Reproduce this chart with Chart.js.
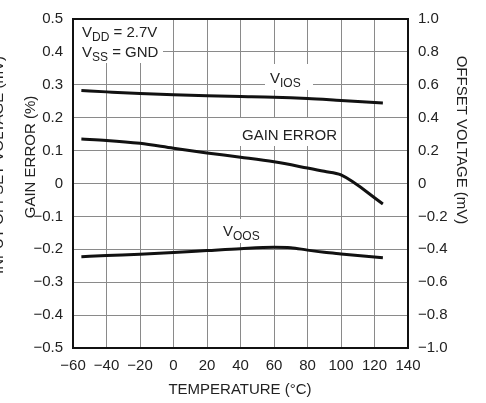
<!DOCTYPE html>
<html>
<head>
<meta charset="utf-8">
<script src="https://cdn.jsdelivr.net/npm/chart.js@4.4.1/dist/chart.umd.min.js"></script>
<style>
  body { margin: 0; background: #fff; }
  #wrap { width: 486px; height: 403px; }
</style>
</head>
<body>
<div id="wrap"><canvas id="chart"></canvas></div>
<script>
// values
var viosTemps = [-55, -40, -20, 0, 20, 40, 60, 80, 100, 125];
var viosMv    = [0.565, 0.557, 0.547, 0.539, 0.533, 0.529, 0.525, 0.517, 0.505, 0.490];

var gainTemps = [-55, -40, -20, 0, 20, 40, 60, 80, 90, 100, 125];
var gainError = [0.135, 0.131, 0.122, 0.107, 0.093, 0.080, 0.066, 0.047, 0.037, 0.026, -0.062];

var voosTemps = [-55, -40, -20, 0, 20, 40, 60, 70, 80, 90, 100, 125];
var voosMv    = [-0.445, -0.438, -0.430, -0.420, -0.408, -0.396, -0.388, -0.390, -0.405, -0.418, -0.428, -0.452];

var FONT = "'Liberation Sans', Arial, sans-serif";

function pts(xs, ys) {
    return xs.map(function(x, i) { return { x: x, y: ys[i] }; });
}

function minusFmt(v, digits) {
    if (Math.abs(v) < 1e-9) return '0';
    var s = Math.abs(v).toFixed(digits);
    return (v < 0 ? '\u2212' : '') + s;
}

// V with subscript, then optional trailing text
function subText(ctx, x, y, main, sub, rest) {
    ctx.font = '15px ' + FONT;
    ctx.fillText(main, x, y);
    x += ctx.measureText(main).width;
    ctx.font = '12px ' + FONT;
    ctx.fillText(sub, x, y + 4);
    x += ctx.measureText(sub).width;
    if (rest) {
        ctx.font = '15px ' + FONT;
        ctx.fillText(rest, x, y);
    }
}

var annotations = {
    id: 'annotations',
    beforeDatasetsDraw: function(chart) {
        var ctx = chart.ctx;
        ctx.save();
        ctx.fillStyle = '#fff';
        ctx.fillRect(74, 16, 89, 47);     // supply box
        ctx.fillRect(265, 64, 48, 26);    // V_IOS
        ctx.fillRect(236, 118, 102, 28);  // GAIN ERROR
        ctx.fillRect(218, 219, 47, 24);   // V_OOS
        ctx.restore();
    },
    afterDraw: function(chart) {
        var ctx = chart.ctx;
        var a = chart.chartArea;
        ctx.save();
        ctx.strokeStyle = '#111';
        ctx.lineWidth = 2;
        ctx.strokeRect(a.left, a.top, a.right - a.left, a.bottom - a.top);

        ctx.fillStyle = '#222';
        ctx.textAlign = 'left';
        ctx.textBaseline = 'alphabetic';
        subText(ctx, 82, 37, 'V', 'DD', ' = 2.7V');
        subText(ctx, 82, 57, 'V', 'SS', ' = GND');
        subText(ctx, 270, 83, 'V', 'IOS');
        ctx.font = '15px ' + FONT;
        ctx.fillText('GAIN ERROR', 242, 140);
        subText(ctx, 223, 236, 'V', 'OOS');

        // axis titles
        ctx.font = '15px ' + FONT;
        ctx.textAlign = 'center';
        ctx.textBaseline = 'middle';
        ctx.fillText('TEMPERATURE (\u00B0C)', 240, 390);

        ctx.save();
        ctx.translate(31, 157);
        ctx.rotate(-Math.PI / 2);
        ctx.fillText('GAIN ERROR (%)', 0, 0);
        ctx.restore();

        // second title line, mostly cut off at the page edge
        ctx.save();
        ctx.translate(3, 165);
        ctx.rotate(-Math.PI / 2);
        ctx.textBaseline = 'alphabetic';
        ctx.fillText('INPUT OFFSET VOLTAGE (mV)', 0, 0);
        ctx.restore();

        ctx.save();
        ctx.translate(461, 140);
        ctx.rotate(Math.PI / 2);
        ctx.fillText('OFFSET VOLTAGE (mV)', 0, 0);
        ctx.restore();

        ctx.restore();
    }
};

var lineStyle = {
    borderColor: '#111',
    borderWidth: 3,
    pointRadius: 0,
    fill: false,
    cubicInterpolationMode: 'monotone'
};

new Chart(document.getElementById('chart'), {
    type: 'line',
    data: {
        datasets: [
            Object.assign({ label: 'VIOS', data: pts(viosTemps, viosMv), yAxisID: 'yR' }, lineStyle),
            Object.assign({ label: 'GAIN ERROR', data: pts(gainTemps, gainError), yAxisID: 'y' }, lineStyle),
            Object.assign({ label: 'VOOS', data: pts(voosTemps, voosMv), yAxisID: 'yR' }, lineStyle)
        ]
    },
    options: {
        responsive: true,
        maintainAspectRatio: false,
        animation: false,
        layout: { padding: { top: 15, left: 0, right: 0, bottom: 0 } },
        plugins: {
            legend: { display: false },
            tooltip: { enabled: false }
        },
        scales: {
            x: {
                type: 'linear',
                min: -60,
                max: 140,
                afterFit: function(s) { s.height = 55; },
                ticks: {
                    stepSize: 20,
                    padding: 9,
                    color: '#222',
                    font: { family: FONT, size: 15 },
                    maxRotation: 0,
                    callback: function(v) { return minusFmt(v, 0); }
                },
                grid: { color: '#8a8a8a', lineWidth: 1, drawTicks: false },
                border: { color: '#111', width: 2 }
            },
            y: {
                position: 'left',
                min: -0.5,
                max: 0.5,
                afterFit: function(s) { s.width = 73; },
                ticks: {
                    stepSize: 0.1,
                    padding: 10,
                    color: '#222',
                    font: { family: FONT, size: 15 },
                    callback: function(v) { return minusFmt(v, 1); }
                },
                grid: { color: '#8a8a8a', lineWidth: 1, drawTicks: false },
                border: { color: '#111', width: 2 }
            },
            yR: {
                position: 'right',
                min: -1,
                max: 1,
                afterFit: function(s) { s.width = 78; },
                ticks: {
                    stepSize: 0.2,
                    padding: 10,
                    color: '#222',
                    font: { family: FONT, size: 15 },
                    callback: function(v) { return minusFmt(v, 1); }
                },
                grid: { display: false, drawTicks: false },
                border: { color: '#111', width: 2 }
            }
        }
    },
    plugins: [annotations]
});
</script>
</body>
</html>
